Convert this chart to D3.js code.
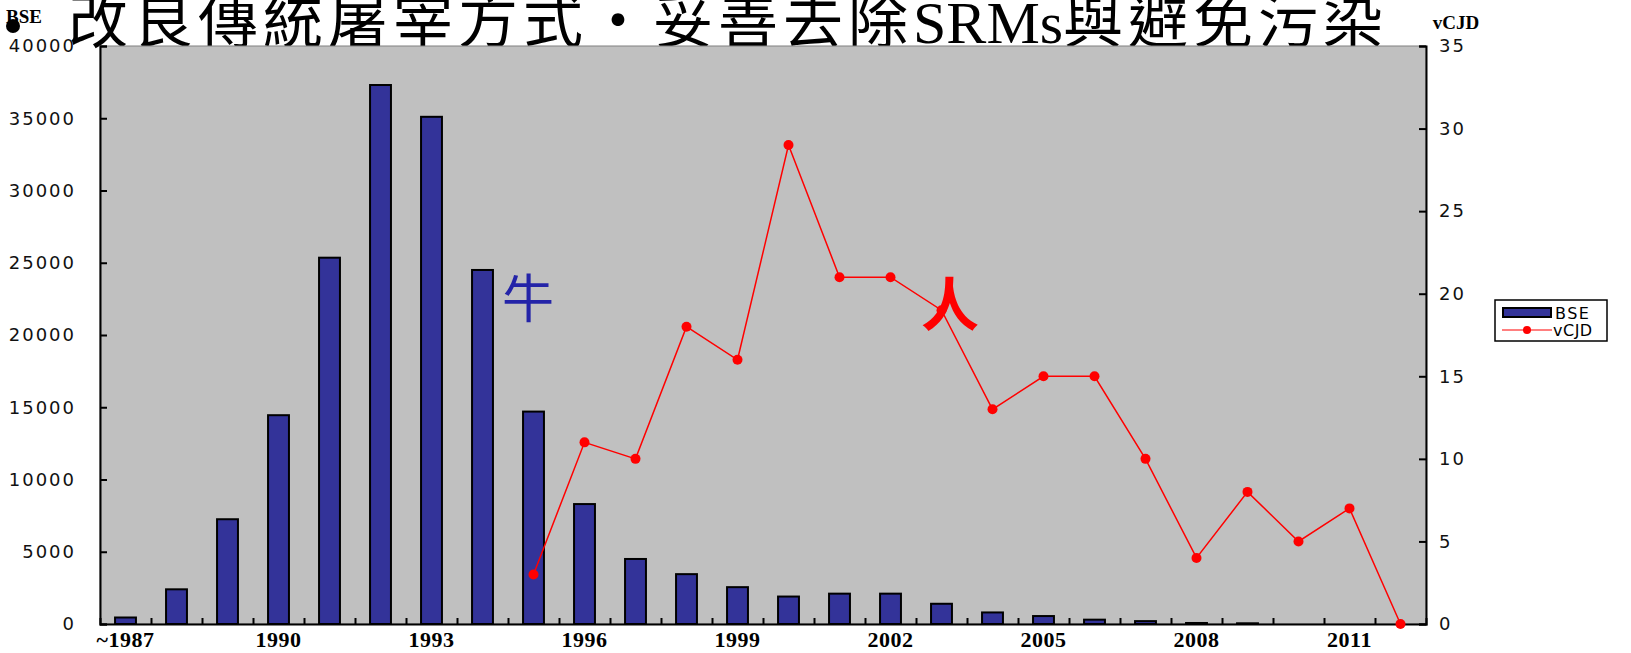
<!DOCTYPE html>
<html>
<head>
<meta charset="utf-8">
<script src="https://cdn.jsdelivr.net/npm/d3@7"></script>
<style>
body { margin: 0; background: #fff; }
.tick text { font-family: "DejaVu Sans", sans-serif; }
</style>
</head>
<body>
<div id="chart"></div>
<script>
var years = ["~1987", "1988", "1989", "1990", "1991", "1992", "1993", "1994", "1995", "1996",
    "1997", "1998", "1999", "2000", "2001", "2002", "2003", "2004", "2005", "2006",
    "2007", "2008", "2009", "2010", "2011", "2012"];
var bseCases = [450, 2400, 7250, 14450, 25350, 37300, 35100, 24500, 14700, 8300,
    4500, 3450, 2550, 1900, 2100, 2100, 1400, 800, 550, 300,
    200, 70, 50, 0, 0, 0];
var cjdYears = ["1995", "1996", "1997", "1998", "1999", "2000", "2001", "2002", "2003",
    "2004", "2005", "2006", "2007", "2008", "2009", "2010", "2011", "2012"];
var cjdCases = [3, 11, 10, 18, 16, 29, 21, 21, 19, 13, 15, 15, 10, 4, 8, 5, 7, 0];
var labelYears = ["~1987", "1990", "1993", "1996", "1999", "2002", "2005", "2008", "2011"];
var bseTicks = [0, 5000, 10000, 15000, 20000, 25000, 30000, 35000, 40000];
var cjdTicks = [0, 5, 10, 15, 20, 25, 30, 35];

var W = 1631, H = 653;
var plot = { left: 100, right: 1426, top: 46, bottom: 624 };

var svg = d3.select("#chart").append("svg")
    .attr("width", W)
    .attr("height", H);

// title (cut at the top, as in the slide)
var title = svg.append("text")
    .attr("x", 68)
    .attr("y", 43)
    .style("font-family", "'Noto Sans CJK TC', sans-serif")
    .style("font-size", "60px")
    .style("letter-spacing", "5px")
    .style("fill", "#000");
title.append("tspan").text("改良傳統屠宰方式‧妥善去除");
title.append("tspan").style("font-family", "'Liberation Serif', serif").style("letter-spacing", "0px").text("SRMs");
title.append("tspan").text("與避免污染");

svg.append("circle")
    .attr("cx", 13)
    .attr("cy", 26)
    .attr("r", 7)
    .style("fill", "#000");

var x = d3.scaleBand()
    .domain(years)
    .range([plot.left, plot.right])
    .paddingInner(0.59)
    .paddingOuter(0.295);

var xEdge = d3.scaleLinear()
    .domain([0, years.length])
    .range([plot.left, plot.right]);

var yL = d3.scaleLinear()
    .domain([0, 40000])
    .range([plot.bottom, plot.top]);

var yR = d3.scaleLinear()
    .domain([0, 35])
    .range([plot.bottom, plot.top]);

// plot background
svg.append("rect")
    .attr("x", plot.left)
    .attr("y", plot.top)
    .attr("width", plot.right - plot.left)
    .attr("height", plot.bottom - plot.top)
    .style("fill", "#c0c0c0")
    .style("stroke", "#808080")
    .style("stroke-width", 1);

// bars
svg.selectAll(".bar")
    .data(bseCases)
    .enter().append("rect")
    .attr("class", "bar")
    .attr("x", function(d, i) { return x(years[i]); })
    .attr("y", function(d) { return yL(d); })
    .attr("width", x.bandwidth())
    .attr("height", function(d) { return plot.bottom - yL(d); })
    .style("fill", "#333399")
    .style("stroke", "#000")
    .style("stroke-width", 2)
    .style("display", function(d) { return d > 0 ? null : "none"; });

// left axis
var leftAxis = svg.append("g")
    .attr("transform", "translate(" + plot.left + ",0)")
    .call(d3.axisLeft(yL).tickValues(bseTicks).tickSize(-7).tickPadding(24).tickFormat(d3.format("d")));

// right axis
var rightAxis = svg.append("g")
    .attr("transform", "translate(" + plot.right + ",0)")
    .call(d3.axisRight(yR).tickValues(cjdTicks).tickSize(-7).tickPadding(13));

// bottom ticks at category edges
var bottomTicks = svg.append("g")
    .attr("transform", "translate(0," + plot.bottom + ")")
    .call(d3.axisBottom(xEdge).tickValues(d3.range(1, years.length)).tickSize(-6).tickFormat(""));

var bottomLabels = svg.append("g")
    .attr("transform", "translate(0," + plot.bottom + ")")
    .call(d3.axisBottom(x).tickValues(labelYears).tickSize(0).tickPadding(7));

[leftAxis, rightAxis, bottomTicks, bottomLabels].forEach(function(g) {
    g.select(".domain").style("stroke", "#000").style("stroke-width", 2);
    g.selectAll(".tick line").style("stroke", "#000").style("stroke-width", 2);
});
bottomLabels.select(".domain").remove();

leftAxis.selectAll("text")
    .style("font-size", "18px")
    .style("letter-spacing", "2px")
    .style("fill", "#111");
rightAxis.selectAll("text")
    .style("font-size", "18px")
    .style("letter-spacing", "2px")
    .style("fill", "#111");
bottomLabels.selectAll("text")
    .style("font-family", "'Liberation Serif', serif")
    .style("font-size", "22px")
    .style("font-weight", "bold")
    .style("letter-spacing", "0.5px")
    .style("fill", "#000");

// axis titles
svg.append("text")
    .attr("x", 24)
    .attr("y", 23)
    .attr("text-anchor", "middle")
    .style("font-family", "'Liberation Serif', serif")
    .style("font-weight", "bold")
    .style("font-size", "19px")
    .text("BSE");

svg.append("text")
    .attr("x", 1456)
    .attr("y", 29)
    .attr("text-anchor", "middle")
    .style("font-family", "'Liberation Serif', serif")
    .style("font-weight", "bold")
    .style("font-size", "19px")
    .text("vCJD");

// vCJD line
var line = d3.line()
    .x(function(d, i) { return x(cjdYears[i]) + x.bandwidth() / 2; })
    .y(function(d) { return yR(d); });

svg.append("path")
    .datum(cjdCases)
    .attr("d", line)
    .style("fill", "none")
    .style("stroke", "#ff0000")
    .style("stroke-width", 1.5);

svg.selectAll(".dot")
    .data(cjdCases)
    .enter().append("circle")
    .attr("class", "dot")
    .attr("cx", function(d, i) { return x(cjdYears[i]) + x.bandwidth() / 2; })
    .attr("cy", function(d) { return yR(d); })
    .attr("r", 5)
    .style("fill", "#ff0000");

// annotations
svg.append("text")
    .attr("x", 528)
    .attr("y", 318)
    .attr("text-anchor", "middle")
    .style("font-family", "'Noto Sans CJK TC', sans-serif")
    .style("font-size", "52px")
    .style("fill", "#2424a8")
    .text("牛");

svg.append("text")
    .attr("x", 950)
    .attr("y", 326)
    .attr("text-anchor", "middle")
    .style("font-family", "'Noto Sans CJK TC', sans-serif")
    .style("font-size", "58px")
    .style("font-weight", "bold")
    .style("fill", "#ff0000")
    .text("人");

// legend
var legend = svg.append("g")
    .attr("transform", "translate(1495,300)");

legend.append("rect")
    .attr("width", 112)
    .attr("height", 41)
    .style("fill", "#fff")
    .style("stroke", "#000")
    .style("stroke-width", 1.5);

legend.append("rect")
    .attr("x", 8)
    .attr("y", 8)
    .attr("width", 48)
    .attr("height", 9)
    .style("fill", "#333399")
    .style("stroke", "#000")
    .style("stroke-width", 2);

legend.append("text")
    .attr("x", 60)
    .attr("y", 19)
    .style("font-family", "'DejaVu Sans', sans-serif")
    .style("font-size", "16px")
    .style("letter-spacing", "1.5px")
    .text("BSE");

legend.append("line")
    .attr("x1", 7)
    .attr("x2", 57)
    .attr("y1", 30)
    .attr("y2", 30)
    .style("stroke", "#ff0000")
    .style("stroke-width", 1.2);

legend.append("circle")
    .attr("cx", 32)
    .attr("cy", 30)
    .attr("r", 4)
    .style("fill", "#ff0000");

legend.append("text")
    .attr("x", 58)
    .attr("y", 36)
    .style("font-family", "'DejaVu Sans', sans-serif")
    .style("font-size", "16px")
    .style("letter-spacing", "0.5px")
    .text("vCJD");
</script>
</body>
</html>
